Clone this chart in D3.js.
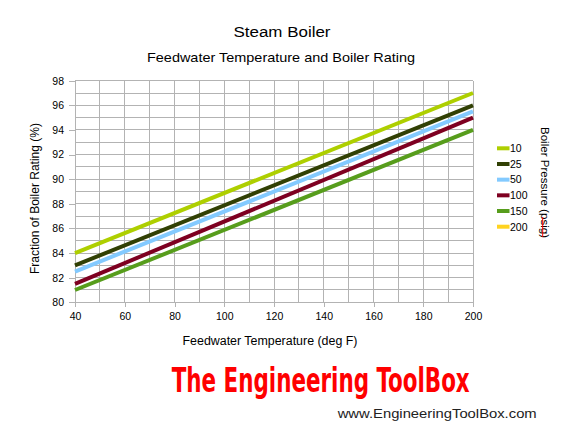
<!DOCTYPE html>
<html><head><meta charset="utf-8">
<script src="https://cdn.jsdelivr.net/npm/d3@7"></script>
<style>
html,body{margin:0;padding:0;background:#fff;}
svg{display:block;font-family:"Liberation Sans",Arial,sans-serif;}
</style></head>
<body>
<svg id="c" width="570" height="442"></svg>
<script>
// Data
const temperatures = [40, 200];
const pressures = ["10", "25", "50", "100", "150", "200"];
const rating10  = [84, 97];
const rating25  = [83, 96];
const rating50  = [82.5, 95.5];
const rating100 = [81.5, 95];
const rating150 = [81, 94];
const rating200 = [];
const xTicks = [40, 60, 80, 100, 120, 140, 160, 180, 200];
const yTicks = [80, 82, 84, 86, 88, 90, 92, 94, 96, 98];
const colors = ["#aecf00", "#314004", "#83caff", "#7e0021", "#579d1c", "#ffd320"];

const seriesValues = [rating10, rating25, rating50, rating100, rating150, rating200];
const series = pressures.map((p, i) => ({
  name: p, color: colors[i],
  points: seriesValues[i].map((v, j) => ({x: temperatures[j], y: v}))
}));

const svg = d3.select("#c");
const L = 75, R = 473, T = 80.7, B = 302.3;
const x = d3.scaleLinear().domain([40, 200]).range([L, R]);
const y = d3.scaleLinear().domain([80, 98]).range([B, T]);
const grid = "#b3b3b3";

// grid
const g = svg.append("g");
g.selectAll(".vg").data(d3.range(40, 201, 10)).join("line")
  .attr("x1", d => x(d)).attr("x2", d => x(d)).attr("y1", T).attr("y2", B)
  .attr("stroke", grid).attr("stroke-width", 1).attr("shape-rendering", "crispEdges");
g.selectAll(".hg").data(d3.range(80, 98.01, 1)).join("line")
  .attr("x1", L).attr("x2", R).attr("y1", d => y(d)).attr("y2", d => y(d))
  .attr("stroke", grid).attr("stroke-width", 1).attr("shape-rendering", "crispEdges");

// axes
const xAxis = d3.axisBottom(x).tickValues(xTicks).tickSize(5).tickPadding(5).tickFormat(d3.format("d"));
const yAxis = d3.axisLeft(y).tickValues(yTicks).tickSize(6).tickPadding(5).tickFormat(d3.format("d"));
const gx = svg.append("g").attr("transform", `translate(0,${B})`).call(xAxis);
const gy = svg.append("g").attr("transform", `translate(${L},0)`).call(yAxis);
[gx, gy].forEach(a => {
  a.select(".domain").attr("stroke", grid).attr("shape-rendering", "crispEdges");
  a.selectAll(".tick line").attr("stroke", grid).attr("shape-rendering", "crispEdges");
  a.selectAll(".tick text").attr("fill", "#000").style("font-size", "10.5px")
   .style("font-family", "'Liberation Sans',Arial,sans-serif");
});

// lines
const line = d3.line().x(d => x(d.x)).y(d => y(d.y));
svg.append("g").selectAll("path").data(series.filter(s => s.points.length)).join("path")
  .attr("d", d => line(d.points)).attr("fill", "none")
  .attr("stroke", d => d.color).attr("stroke-width", 4);

// titles
svg.append("text").attr("x", 282).attr("y", 37).attr("text-anchor", "middle")
  .style("font-size", "14px").attr("textLength", 97).attr("lengthAdjust", "spacingAndGlyphs").text("Steam Boiler");
svg.append("text").attr("x", 281).attr("y", 62).attr("text-anchor", "middle")
  .style("font-size", "13.5px").attr("textLength", 268).attr("lengthAdjust", "spacingAndGlyphs")
  .text("Feedwater Temperature and Boiler Rating");
svg.append("text").attr("x", 270).attr("y", 345).attr("text-anchor", "middle")
  .style("font-size", "12px").attr("textLength", 175).attr("lengthAdjust", "spacingAndGlyphs")
  .text("Feedwater Temperature (deg F)");
svg.append("text").attr("transform", "translate(39.3,198.5) rotate(-90)").attr("text-anchor", "middle")
  .style("font-size", "12px").attr("textLength", 151).attr("lengthAdjust", "spacingAndGlyphs")
  .text("Fraction of Boiler Rating (%)");

// legend
const leg = svg.append("g");
const ly = d3.scaleLinear().domain([0, pressures.length - 1]).range([148.3, 226.7]);
series.forEach((s, i) => {
  leg.append("line").attr("x1", 497).attr("x2", 509.5).attr("y1", ly(i)).attr("y2", ly(i))
    .attr("stroke", s.color).attr("stroke-width", 4);
  leg.append("text").attr("x", 510).attr("y", ly(i) + 3.8).style("font-size", "10.5px").text(s.name);
});
svg.append("text").attr("transform", "translate(540.5,182.5) rotate(90)").attr("text-anchor", "middle")
  .style("font-size", "11.5px").attr("textLength", 111).attr("lengthAdjust", "spacingAndGlyphs")
  .text("Boiler Pressure (psig)");
svg.append("line").attr("x1", 542.7).attr("x2", 542.7).attr("y1", 217).attr("y2", 237)
  .attr("stroke", "#ff0000").attr("stroke-width", 1);

// logo
svg.append("text").attr("x", 171.7).attr("y", 391.7)
  .style("font-family", "'Liberation Sans Narrow','DejaVu Sans Condensed',sans-serif")
  .style("font-weight", "bold").style("font-size", "34px").attr("fill", "#ff0000")
  .attr("textLength", 298).attr("lengthAdjust", "spacingAndGlyphs")
  .text("The Engineering ToolBox");
svg.append("text").attr("x", 337.7).attr("y", 418.3)
  .style("font-size", "13.5px").attr("fill", "#222")
  .attr("textLength", 199).attr("lengthAdjust", "spacingAndGlyphs")
  .text("www.EngineeringToolBox.com");
</script>
</body></html>
